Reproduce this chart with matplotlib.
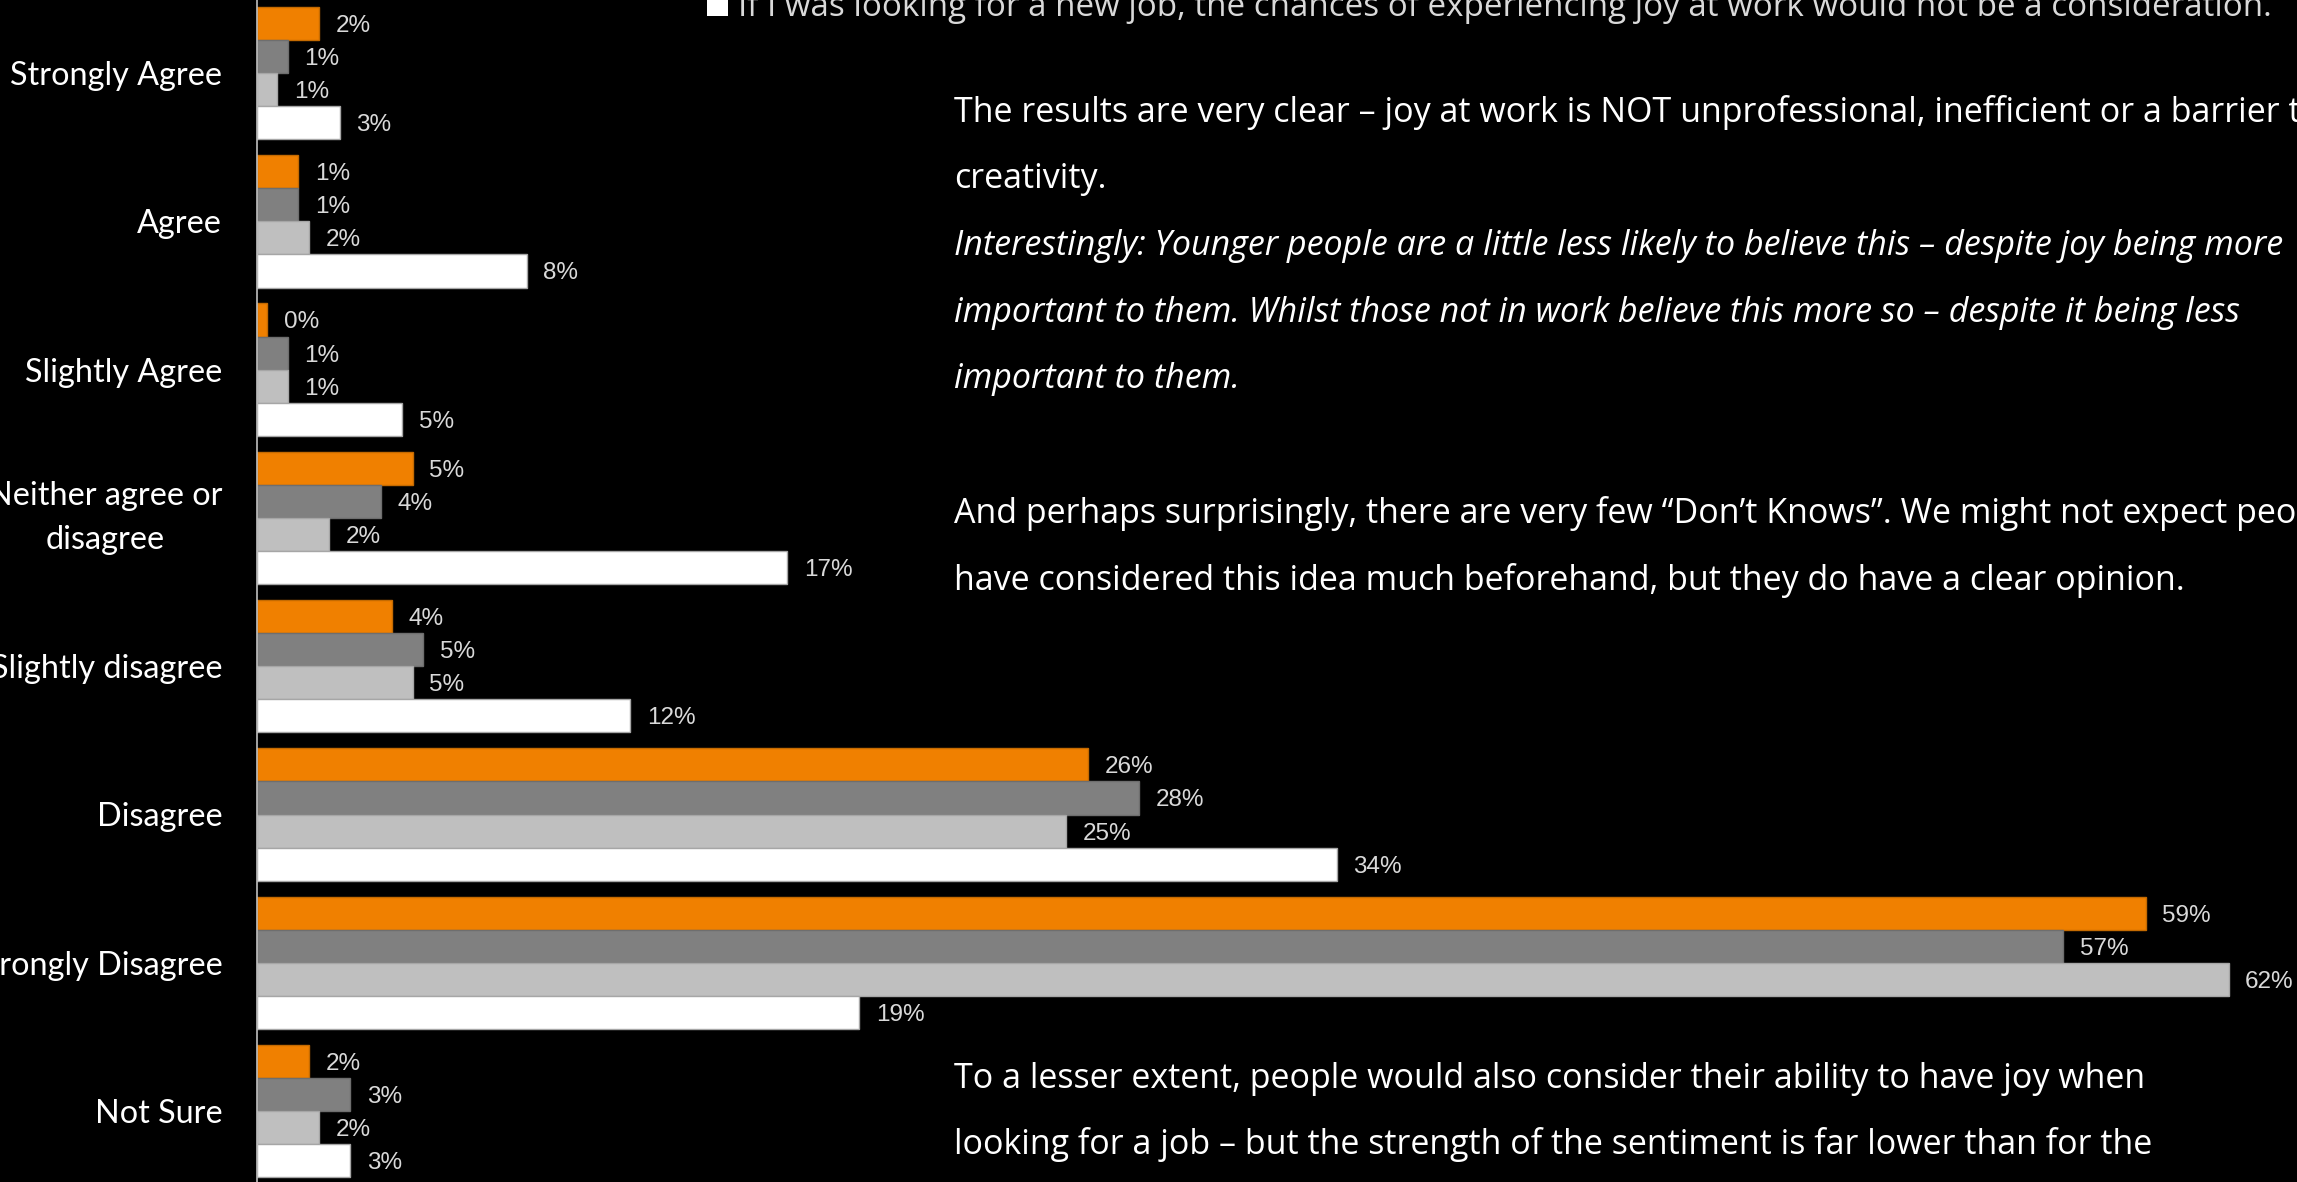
import numpy as np
import matplotlib.pyplot as plt
from matplotlib.patches import Rectangle

# Survey responses (% of respondents) per statement
responses = ["Strongly Agree", "Agree", "Slightly Agree", "Neither agree or\ndisagree",
             "Slightly disagree", "Disagree", "Strongly Disagree", "Not Sure"]
unprofessional = [1.95, 1.30, 0.31, 4.89, 4.23, 26.1, 59.3, 1.62]
inefficient = [0.96, 1.30, 0.96, 3.90, 5.21, 27.7, 56.7, 2.92]
barrier_creativity = [0.64, 1.62, 0.96, 2.27, 4.89, 25.4, 61.9, 1.95]
new_job = [2.60, 8.47, 4.55, 16.65, 11.72, 33.9, 18.9, 2.92]

series = [unprofessional, inefficient, barrier_creativity, new_job]
colors = ["#F08000", "#808080", "#BFBFBF", "#FFFFFF"]
edges = ["#C46A00", "#6E6E6E", "#A6A6A6", "#A6A6A6"]
new_job_label = ("If I was looking for a new job, the chances of experiencing joy "
                 "at work would not be a consideration.")

W, H = 2297, 1182
fig = plt.figure(figsize=(W / 100, H / 100), dpi=100, facecolor="black")
left = 257
ax = fig.add_axes([left / W, 0, 1 - left / W, 1], facecolor="black")

px_per_pct = 31.85
group_px = 148.3
first_center = 73
h = 33.1 / group_px

y = np.arange(len(responses))
for k, (vals, c, ec) in enumerate(zip(series, colors, edges)):
    pos = y + (k - 1.5) * h
    ax.barh(pos, vals, height=h, color=c, edgecolor=ec, linewidth=1)
    for p, v in zip(pos, vals):
        ax.annotate(f"{v:.0f}%", (v, p), xytext=(12, 0), textcoords="offset points",
                    va="center_baseline", ha="left", color="#D9D9D9", fontsize=17.5,
                    family="Liberation Sans")

ax.set_xlim(0, (W - left) / px_per_pct)
ax.set_ylim((H - first_center) / group_px, -first_center / group_px)
ax.set_yticks(y)
ax.set_yticklabels(responses, color="white", fontsize=23.3, family="Lato",
                   multialignment="center", linespacing=1.57)
ax.get_yticklabels()[3].set_va("center")
ax.tick_params(axis="y", length=0, pad=25)
ax.set_xticks([])
for s in ["top", "right", "bottom"]:
    ax.spines[s].set_visible(False)
ax.spines["left"].set_color("#BFBFBF")
ax.spines["left"].set_linewidth(1.2)

# legend entry for the white series
fig.add_artist(Rectangle((707 / W, 1 - 15.5 / H), 21 / W, 21 / H,
                         transform=fig.transFigure, facecolor="white", edgecolor="none"))
fig.text(738 / W, 1 - 15.5 / H, new_job_label, color="#D9D9D9", fontsize=23.9,
         family="Open Sans", va="baseline", ha="left")

txt = dict(color="white", fontsize=24.5, family="Open Sans", va="baseline", ha="left")
paras = [
    (122, "The results are very clear \u2013 joy at work is NOT unprofessional, inefficient or a barrier to", "normal"),
    (188, "creativity.", "normal"),
    (255, "Interestingly: Younger people are a little less likely to believe this \u2013 despite joy being more", "italic"),
    (322, "important to them. Whilst those not in work believe this more so \u2013 despite it being less", "italic"),
    (388, "important to them.", "italic"),
    (523, "And perhaps surprisingly, there are very few \u201cDon\u2019t Knows\u201d. We might not expect people to", "normal"),
    (590, "have considered this idea much beforehand, but they do have a clear opinion.", "normal"),
    (1088, "To a lesser extent, people would also consider their ability to have joy when", "normal"),
    (1154, "looking for a job \u2013 but the strength of the sentiment is far lower than for the", "normal"),
]
for yb, line, style in paras:
    fig.text(954 / W, 1 - yb / H, line, style=style, **txt)

fig.savefig("out.png", dpi=100, facecolor="black")
